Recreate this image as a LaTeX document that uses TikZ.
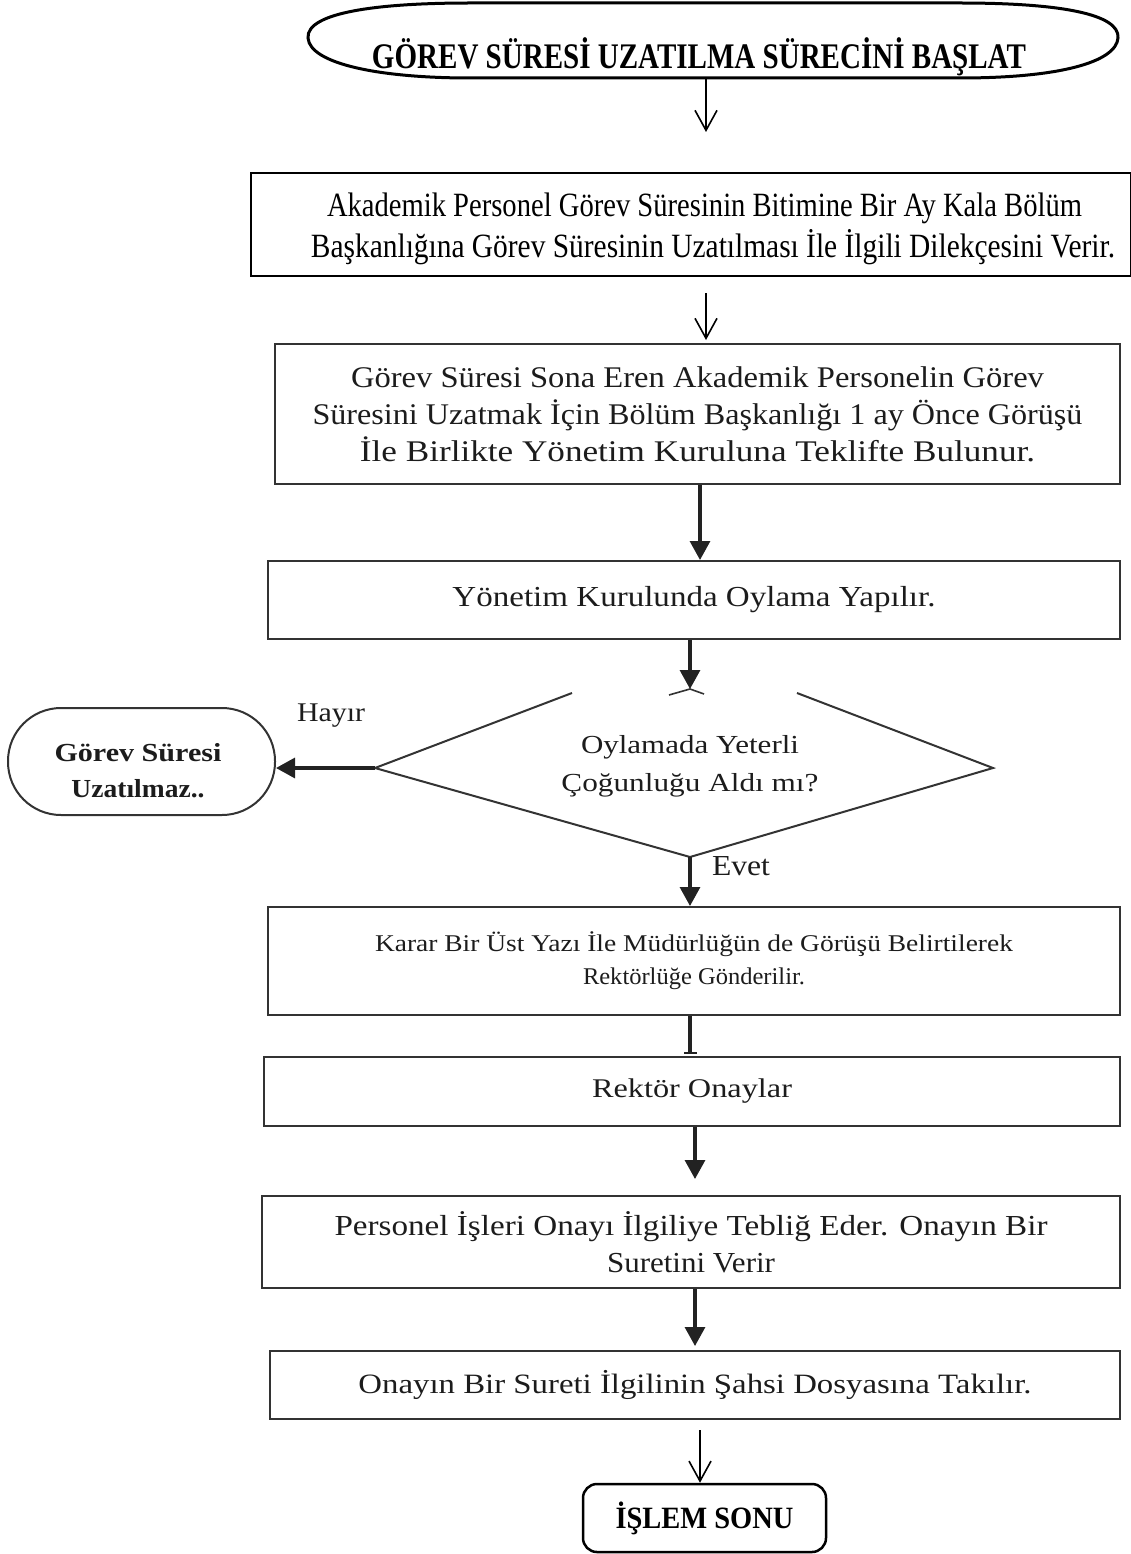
\documentclass[tikz,border=0pt]{standalone}
\usepackage{fontspec}
\usepackage{graphicx}
\setmainfont{Liberation Serif}
\usetikzlibrary{arrows.meta,shapes.geometric}
\newcommand{\fitw}[2]{\resizebox{#1}{\height}{#2}}
\definecolor{boxgray}{HTML}{333333}
\definecolor{txtgray}{HTML}{1C1C1C}
\definecolor{arrgray}{HTML}{222222}
\begin{document}
\begin{tikzpicture}[x=1pt,y=-1pt,
  box/.style={draw=boxgray, line width=2pt, rectangle, inner sep=0pt, align=center, text=txtgray},
  plain/.style={inner sep=0pt, align=center, text=txtgray},
  thinarr/.style={draw=black, line width=1.6pt, -{Straight Barb[length=20pt,width=22pt,line width=1.6pt]}},
  thickarr/.style={draw=arrgray, line width=3.2pt, -{Triangle[length=19pt,width=20pt]}},
  bararr/.style={draw=arrgray, line width=3.2pt, -{Bar[width=13pt,line width=2pt]}}
]
\useasboundingbox (0,0) rectangle (1131,1554);

% start terminator
\draw[black, line width=3pt] (308,38) .. controls (306,12) and (380,3) .. (470,3) -- (960,3)
  .. controls (1060,3) and (1120,14) .. (1118,38)
  .. controls (1116,62) and (1060,78) .. (960,78) -- (470,78)
  .. controls (380,78) and (310,64) .. (308,38) -- cycle;
\node[plain, text=black, font=\fontsize{36}{36}\selectfont\bfseries] (start) at (699,57) {\fitw{654pt}{GÖREV SÜRESİ UZATILMA SÜRECİNİ BAŞLAT}};
\coordinate (sbot) at (706,78);

% box 1
\node[box, draw=black, minimum width=880pt, minimum height=103pt] (b1) at (691,224.5) {};
\node[plain, text=black, font=\fontsize{34}{41}\selectfont] (b1text) at (713,229)
  {\hspace*{-17pt}\fitw{755pt}{Akademik Personel Görev Süresinin Bitimine Bir Ay Kala Bölüm}\\\fitw{804pt}{Başkanlığına Görev Süresinin Uzatılması İle İlgili Dilekçesini Verir.}};

% box 2
\node[box, minimum width=845pt, minimum height=140pt, font=\fontsize{30}{37}\selectfont] (b2) at (697.5,414)
  {\fitw{693pt}{Görev Süresi Sona Eren Akademik Personelin Görev}\\\fitw{770pt}{Süresini Uzatmak İçin Bölüm Başkanlığı 1 ay Önce Görüşü}\\\fitw{675pt}{İle Birlikte Yönetim Kuruluna Teklifte Bulunur.}};

% box 3
\node[box, minimum width=852pt, minimum height=78pt, font=\fontsize{29}{35}\selectfont] (b3) at (694,600)
  {\fitw{483pt}{Yönetim Kurulunda Oylama Yapılır.}};

% decision
\coordinate (dtl) at (572,693);
\coordinate (dl) at (375,768);
\coordinate (db) at (690,857);
\coordinate (dr) at (993,768);
\coordinate (dtr) at (797,693);
\coordinate (dtop) at (690,689);
\draw[boxgray, line width=2pt, line join=miter] (dtl) -- (dl) -- (db) -- (dr) -- (dtr);
\draw[boxgray, line width=1.6pt] (669,695) -- (dtop) -- (704,694);
\node[plain, font=\fontsize{26}{38}\selectfont] (dtext) at (690,766)
  {\fitw{218pt}{Oylamada Yeterli}\\\fitw{257pt}{Çoğunluğu Aldı mı?}};

% terminator (no)
\node[draw=boxgray, line width=2pt, rectangle, rounded corners=53pt, minimum width=267pt, minimum height=107pt, inner sep=0pt] (no) at (141.5,761.5) {};
\node[plain, font=\fontsize{26}{36}\selectfont\bfseries] (notext) at (138,771)
  {\fitw{167pt}{Görev Süresi}\\\fitw{133pt}{Uzatılmaz..}};
\node[plain, font=\fontsize{27}{27}\selectfont] (hayir) at (331,716) {\fitw{68pt}{Hayır}};
\node[plain, font=\fontsize{29}{29}\selectfont] (evet) at (741,866) {\fitw{58pt}{Evet}};

% box 4
\node[box, minimum width=852pt, minimum height=108pt, font=\fontsize{24}{33}\selectfont] (b4) at (694,961)
  {\fitw{638pt}{Karar Bir Üst Yazı İle Müdürlüğün de Görüşü Belirtilerek}\\\fitw{222pt}{Rektörlüğe Gönderilir.}};

% box 5
\node[box, minimum width=856pt, minimum height=69pt, font=\fontsize{27}{33}\selectfont] (b5) at (692,1091.5)
  {\fitw{200pt}{Rektör Onaylar}};

% box 6
\node[box, minimum width=858pt, minimum height=92pt, font=\fontsize{29}{37}\selectfont] (b6) at (691,1242)
  {\fitw{713pt}{Personel İşleri Onayı İlgiliye Tebliğ Eder. Onayın Bir}\\\fitw{168pt}{Suretini Verir}};

% box 7
\node[box, minimum width=850pt, minimum height=68pt, font=\fontsize{28}{34}\selectfont] (b7) at (695,1385)
  {\fitw{673pt}{Onayın Bir Sureti İlgilinin Şahsi Dosyasına Takılır.}};

% end
\node[draw=black, line width=2.5pt, rectangle, rounded corners=14pt, minimum width=243pt, minimum height=68pt, inner sep=0pt, font=\fontsize{31}{31}\selectfont\bfseries] (end) at (704.5,1518)
  {\fitw{178pt}{İŞLEM SONU}};

% connectors
\coordinate (a1e) at (706,132);
\draw[thinarr] (sbot) -- (a1e);
\coordinate (a2s) at (706,293);
\draw[thinarr] (a2s) -- ([xshift=8.5pt,yshift=3pt]b2.north);
\draw[thickarr] ([xshift=2.5pt]b2.south) -- ([xshift=6pt]b3.north);
\draw[thickarr] ([xshift=-4pt]b3.south) -- (dtop);
\draw[thickarr] (dl) -- (dl -| no.east);
\draw[thickarr] (db) -- ([xshift=-4pt]b4.north);
\draw[bararr] ([xshift=-4pt]b4.south) -- ([xshift=-2pt,yshift=2pt]b5.north);
\draw[thickarr] ([xshift=3pt]b5.south) -- ([xshift=4pt,yshift=16pt]b6.north);
\draw[thickarr] ([xshift=4pt]b6.south) -- ([yshift=4pt]b7.north);
\coordinate (a9s) at (700,1430);
\draw[thinarr] (a9s) -- ([xshift=-4.5pt]end.north);
\end{tikzpicture}
\end{document}
